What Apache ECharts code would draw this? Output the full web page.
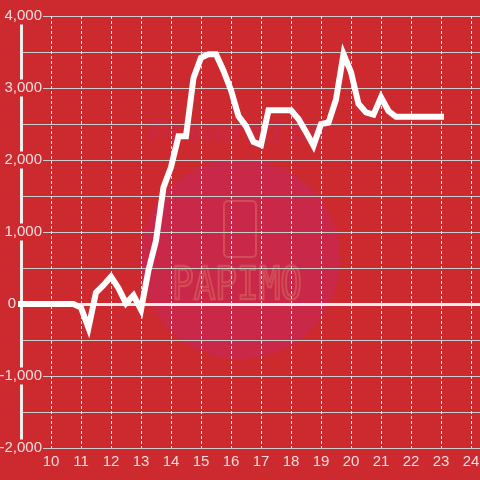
<!DOCTYPE html>
<html>
<head>
<meta charset="utf-8">
<script src="https://cdn.jsdelivr.net/npm/echarts@6/dist/echarts.min.js"></script>
<style>
  html, body { margin: 0; padding: 0; background: #cc2a2f; }
  #chart { width: 480px; height: 480px; }
</style>
</head>
<body>
<div id="chart"></div>
<script>
(function () {
    "use strict";

    // hours of the day, one point every 15 minutes
    var hours = [
        9, 9.25, 9.5, 9.75, 10, 10.25, 10.5, 10.75,
        11, 11.25, 11.5, 11.75, 12, 12.25, 12.5, 12.75,
        13, 13.25, 13.5, 13.75, 14, 14.25, 14.5, 14.75,
        15, 15.25, 15.5, 15.75, 16, 16.25, 16.5, 16.75,
        17, 17.25, 17.5, 17.75, 18, 18.25, 18.5, 18.75,
        19, 19.25, 19.5, 19.75, 20, 20.25, 20.5, 20.75,
        21, 21.25, 21.5, 21.75, 22, 22.25, 22.5, 22.75, 23
    ];
    var balance = [
        0, 0, 0, 0, 0, 0, 0, 0,
        -50, -330, 160, 260, 380, 220, 10, 120,
        -80, 470, 880, 1620, 1900, 2330, 2330, 3140,
        3420, 3470, 3470, 3240, 2970, 2610, 2470, 2250,
        2210, 2690, 2690, 2690, 2690, 2570, 2390, 2200,
        2500, 2520, 2840, 3470, 3220, 2780, 2660, 2630,
        2870, 2680, 2600, 2600, 2600, 2600, 2600, 2600, 2600
    ];
    var xTicks = [10, 11, 12, 13, 14, 15, 16, 17, 18, 19, 20, 21, 22, 23, 24];
    var yTicks = [-2000, -1000, 0, 1000, 2000, 3000, 4000];

    var bg = '#cc2a2f';
    var labelColor = '#f3dcdc';

    var lineData = hours.map(function (h, i) { return [h, balance[i]]; });

    var option = {
        backgroundColor: bg,
        animation: false,
        grid: {
            top: 16,
            right: 0,
            bottom: 32,
            left: 21,
            outerBoundsMode: 'none',
            containLabel: false
        },
        xAxis: [{
            type: 'value',
            min: 9,
            max: 24.3,
            interval: 1,
            position: 'bottom',
            axisLine: { show: false, onZero: false },
            axisTick: { show: false },
            axisLabel: {
                margin: 6,
                fontSize: 15,
                fontFamily: 'Liberation Sans',
                color: labelColor,
                formatter: function (v) {
                    return xTicks.indexOf(v) >= 0 ? String(v) : '';
                }
            },
            splitLine: {
                show: true,
                lineStyle: { color: '#ececec', width: 1, type: [3, 2] }
            }
        }, {
            // zero line
            type: 'value',
            min: 9,
            max: 24.3,
            interval: 1,
            position: 'top',
            axisLine: { show: true, onZero: true, lineStyle: { color: '#f2eeee', width: 3 } },
            axisTick: { show: false },
            axisLabel: { show: false },
            splitLine: { show: false }
        }],
        yAxis: {
            type: 'value',
            min: -2000,
            max: 4000,
            interval: 500,
            axisLine: { show: true, onZero: false, lineStyle: { color: '#eeeeee', width: 3 } },
            axisTick: { show: false },
            axisLabel: {
                margin: -22,
                fontSize: 15,
                fontFamily: 'Liberation Sans',
                color: labelColor,
                formatter: function (v) {
                    if (yTicks.indexOf(v) < 0) return '';
                    if (v === 0) return '{z|0}';
                    return '{a|' + v.toLocaleString('en-US') + '}';
                },
                rich: {
                    a: {
                        fontSize: 15,
                        fontFamily: 'Liberation Sans',
                        color: labelColor,
                        backgroundColor: bg,
                        padding: [1, 1, 1, 0]
                    },
                    z: {
                        fontSize: 15,
                        fontFamily: 'Liberation Sans',
                        color: labelColor,
                        padding: [1, 27, 1, 0]
                    }
                }
            },
            splitLine: {
                show: true,
                lineStyle: { color: '#cccccc', width: 1 }
            }
        },
        graphic: [{
            type: 'circle',
            z: -1,
            shape: { cx: 240, cy: 259, r: 100 },
            style: { fill: '#c92848' }
        }, {
            type: 'text',
            z: -1,
            left: 148,
            top: 117,
            style: {
                text: 'Powered by',
                fontSize: 32,
                fontWeight: 'bold',
                fontStyle: 'italic',
                fontFamily: 'Liberation Sans',
                fill: '#c92a42'
            }
        }, {
            type: 'rect',
            z: -1,
            shape: { x: 224, y: 201, width: 32, height: 56, r: 4 },
            style: { fill: 'none', stroke: '#d24c58', lineWidth: 2 }
        }, {
            type: 'text',
            z: -1,
            x: 172,
            y: 266,
            scaleY: 1.22,
            style: {
                text: 'PAPIMO',
                fontSize: 36,
                fontFamily: 'DejaVu Sans Mono',
                fill: 'none',
                stroke: '#d24c58',
                lineWidth: 2
            }
        }],
        series: [{
            type: 'line',
            xAxisIndex: 0,
            data: lineData,
            symbol: 'none',
            clip: false,
            lineStyle: { color: '#ffffff', width: 6, cap: 'square', join: 'miter' }
        }]
    };

    var chart = echarts.init(document.getElementById('chart'));
    chart.setOption(option);
})();
</script>
</body>
</html>
